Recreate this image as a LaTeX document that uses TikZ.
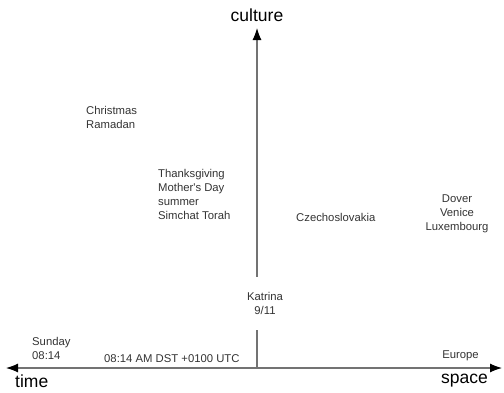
\documentclass[tikz,border=0pt]{standalone}
\usepackage{fontspec}
\setmainfont{Liberation Sans}
\usetikzlibrary{arrows.meta}

\tikzset{
  axis/.style={draw=black!55, line width=1.1bp, arrows={-{Latex[length=12bp,width=9bp,color=black]}}},
  lbl/.style={inner sep=0pt, font=\fontsize{11.3bp}{14bp}\selectfont, text=black!80},
  big/.style={inner sep=0pt, font=\fontsize{17.5bp}{20bp}\selectfont},
}

\begin{document}
\begin{tikzpicture}[x=1bp,y=1bp]
\useasboundingbox (0,0) rectangle (504,392);

\coordinate (west) at (6,24);
\coordinate (east) at (502,24);
\coordinate (origin) at (257,24);
\coordinate (north) at (257,364);

\draw[axis,arrows={{Latex[length=12bp,width=9bp,color=black]}-{Latex[length=12bp,width=9bp,color=black]}}] (west) -- (east);
\draw[axis] (origin) -- (north);

\node[big] (culture) at (257,377) {culture};
\node[big,anchor=west] (time) at (15,11) {time};
\node[big,anchor=east] (space) at (488,11) {space};

\node[lbl,anchor=west,align=left] (holidays) at (86,274.5) {Christmas\\Ramadan};
\node[lbl,anchor=west,align=left] (days) at (158,198) {Thanksgiving\\Mother\textquotesingle s Day\\summer\\Simchat Torah};
\node[lbl,anchor=west] (czech) at (296,175) {Czechoslovakia};
\node[lbl,align=center] (cities) at (457,178.5) {Dover\\Venice\\Luxembourg};
\node[lbl,align=center,fill=white,minimum height=53bp] (katrina) at (265,89) {Katrina\\9/11};
\node[lbl,anchor=west,align=left] (sunday) at (32,43.5) {Sunday\\08:14};
\node[lbl,anchor=west] (clock) at (104,33) {08:14 AM DST +0100 UTC};
\node[lbl] (europe) at (460.5,36) {Europe};
\end{tikzpicture}
\end{document}
